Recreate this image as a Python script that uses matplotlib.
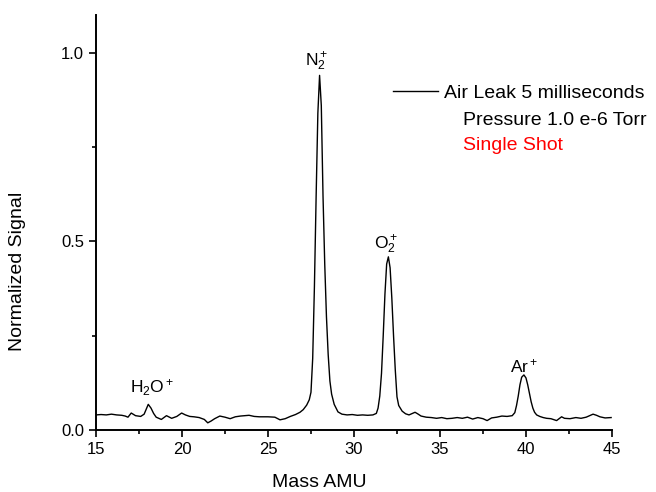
import matplotlib
matplotlib.use("Agg")
import matplotlib.pyplot as plt
from matplotlib.ticker import MultipleLocator

plt.rcParams['font.family'] = ['Liberation Sans', 'DejaVu Sans']
plt.rcParams['mathtext.fontset'] = 'custom'
plt.rcParams['mathtext.rm'] = 'Liberation Sans'
plt.rcParams['mathtext.it'] = 'Liberation Sans'

# spectrum
mass = [15.0, 15.3, 15.6, 15.9, 16.2, 16.5, 16.7, 16.86, 17.05, 17.3, 17.6, 17.8,
        17.95, 18.04, 18.2, 18.35, 18.5, 18.8, 19.1, 19.4, 19.7, 19.98, 20.2, 20.45,
        20.7, 21.0, 21.3, 21.5, 21.7, 21.9, 22.2, 22.5, 22.8, 23.1, 23.4, 23.9,
        24.2, 24.5, 25.0, 25.4, 25.7, 26.0, 26.3, 26.6, 26.86, 27.05, 27.25, 27.4,
        27.5, 27.6, 27.7, 27.8, 27.9, 28.0, 28.1, 28.2, 28.3, 28.4, 28.5, 28.6,
        28.7, 28.85, 29.07, 29.3, 29.6, 29.9, 30.2, 30.5, 30.8, 31.1, 31.3, 31.4,
        31.5, 31.6, 31.7, 31.8, 31.9, 32.0, 32.1, 32.2, 32.3, 32.4, 32.5, 32.6,
        32.8, 33.0, 33.2, 33.4, 33.55, 33.7, 33.9, 34.2, 34.5, 34.8, 35.1, 35.4,
        35.7, 36.0, 36.3, 36.6, 36.9, 37.2, 37.5, 37.74, 38.0, 38.3, 38.6, 38.9,
        39.2, 39.35, 39.45, 39.55, 39.65, 39.75, 39.88, 40.0, 40.1, 40.2, 40.3, 40.4,
        40.5, 40.62, 40.8, 41.0, 41.2, 41.45, 41.78, 42.07, 42.24, 42.56, 42.9, 43.2,
        43.5, 43.7, 43.9, 44.1, 44.3, 44.6, 44.95]
signal = [0.040, 0.041, 0.040, 0.042, 0.040, 0.039, 0.037, 0.034, 0.045, 0.038, 0.036, 0.042,
          0.058, 0.068, 0.058, 0.044, 0.034, 0.028, 0.038, 0.031, 0.036, 0.045, 0.040, 0.036,
          0.035, 0.033, 0.028, 0.019, 0.024, 0.030, 0.037, 0.034, 0.030, 0.035, 0.037, 0.039,
          0.036, 0.035, 0.035, 0.034, 0.027, 0.030, 0.036, 0.041, 0.047, 0.054, 0.066, 0.080,
          0.100, 0.190, 0.380, 0.620, 0.840, 0.940, 0.860, 0.620, 0.440, 0.300, 0.200, 0.130,
          0.095, 0.068, 0.048, 0.042, 0.040, 0.041, 0.039, 0.040, 0.039, 0.040, 0.044, 0.058,
          0.090, 0.150, 0.250, 0.360, 0.440, 0.459, 0.430, 0.350, 0.250, 0.160, 0.088, 0.065,
          0.050, 0.043, 0.040, 0.044, 0.047, 0.043, 0.037, 0.034, 0.033, 0.031, 0.033, 0.030,
          0.031, 0.033, 0.031, 0.034, 0.029, 0.033, 0.030, 0.025, 0.032, 0.034, 0.037, 0.036,
          0.038, 0.046, 0.065, 0.090, 0.120, 0.140, 0.146, 0.138, 0.120, 0.097, 0.075, 0.058,
          0.047, 0.040, 0.036, 0.033, 0.031, 0.030, 0.025, 0.035, 0.031, 0.030, 0.033, 0.031,
          0.034, 0.038, 0.042, 0.039, 0.035, 0.032, 0.033]

# ion labels: text, x, baseline y
ion_labels = [r'H$_2$O$^+$', r'N$_2^+$', r'O$_2^+$', r'Ar$^+$']
ion_x = [18.25, 27.85, 31.85, 39.9]
ion_y = [0.100, 0.965, 0.48, 0.154]

fig = plt.figure(figsize=(6.56, 4.92), dpi=100)
ax = fig.add_axes([0.1463, 0.126, 0.7866, 0.8435])

ax.plot(mass, signal, color='black', linewidth=1.0, label='Air Leak 5 milliseconds')

for lab, x, y in zip(ion_labels, ion_x, ion_y):
    ax.text(x, y, lab, ha='center', va='baseline', fontsize=12.5)

ax.set_xlim(15, 45)
ax.set_ylim(0, 1.1)
ax.xaxis.set_major_locator(MultipleLocator(5))
ax.xaxis.set_minor_locator(MultipleLocator(2.5))
ax.yaxis.set_major_locator(MultipleLocator(0.5))
ax.yaxis.set_minor_locator(MultipleLocator(0.25))
ax.tick_params(which='major', length=5, width=1.2, labelsize=12)
ax.tick_params(which='minor', length=3, width=1.2)
for side in ['top', 'right']:
    ax.spines[side].set_visible(False)
for side in ['left', 'bottom']:
    ax.spines[side].set_linewidth(1.4)

ax.set_xlabel('Mass AMU', fontsize=14)
ax.set_ylabel('Normalized Signal', fontsize=14)
ax.xaxis.set_label_coords(0.432, -0.105)
ax.yaxis.set_label_coords(-0.135, 0.383)

fig.legend(loc='center left', bbox_to_anchor=(393 / 656, 1 - 93 / 492),
           frameon=False, fontsize=14, handlelength=2.3, handletextpad=0.3,
           borderpad=0, borderaxespad=0)
fig.text(463 / 656, 1 - 125 / 492, 'Pressure 1.0 e-6 Torr', fontsize=14, va='baseline')
fig.text(463 / 656, 1 - 150 / 492, 'Single Shot', fontsize=14, va='baseline', color='red')

fig.savefig('out.png', dpi=100)
